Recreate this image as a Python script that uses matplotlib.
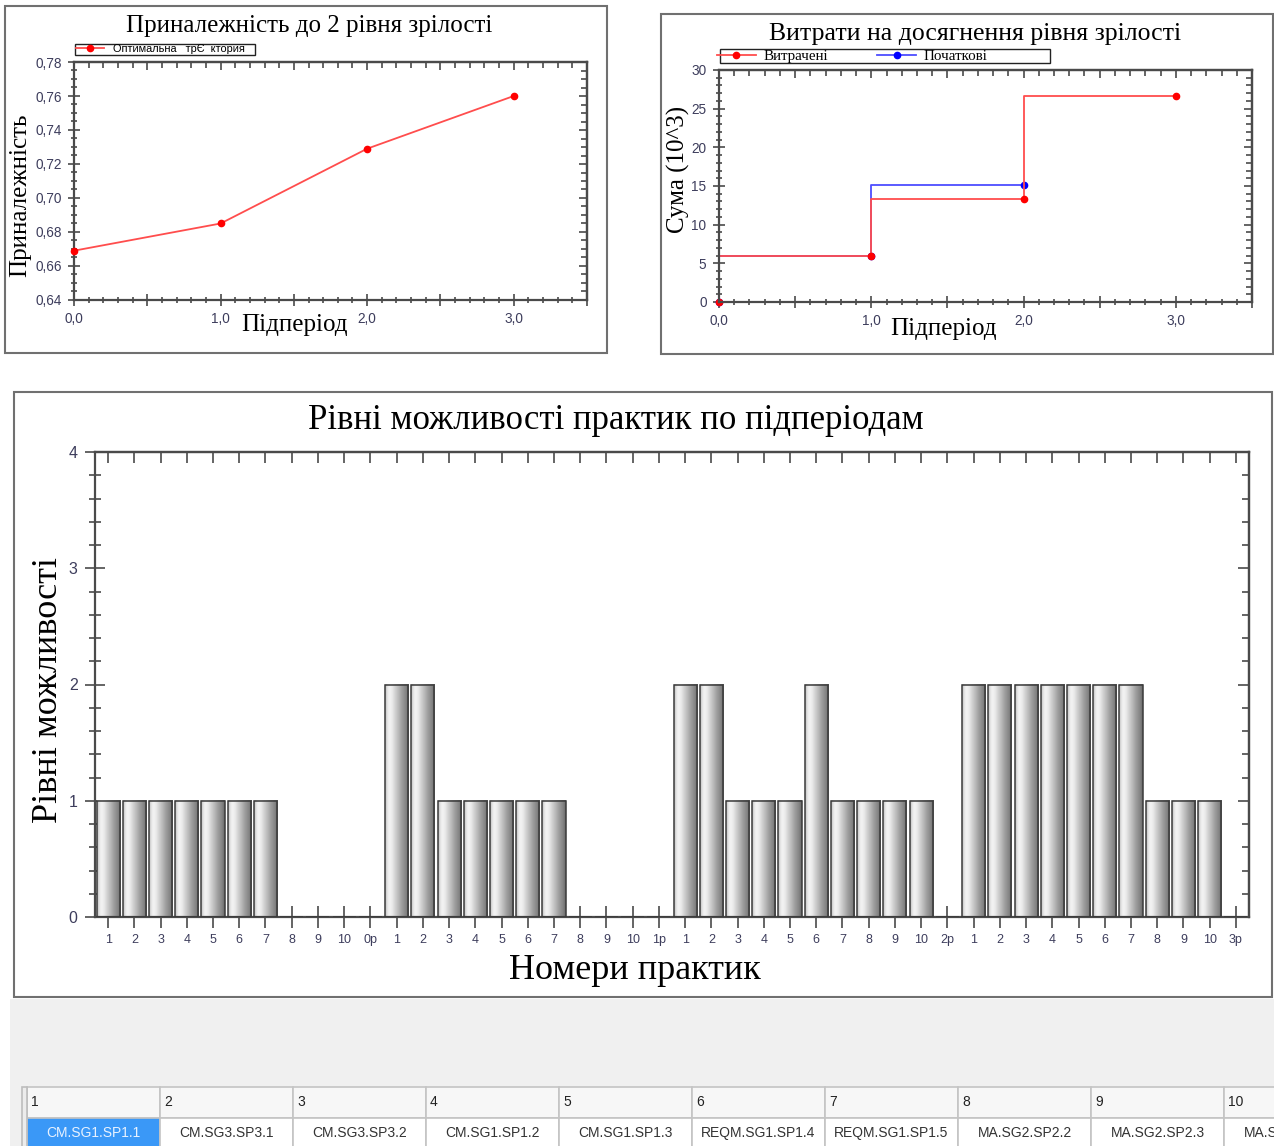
import numpy as np
import matplotlib
matplotlib.use("Agg")
import matplotlib.pyplot as plt
from matplotlib.patches import Rectangle
from matplotlib.ticker import MultipleLocator, FuncFormatter
from matplotlib import font_manager

# ---------------- data ----------------
periods = [0, 1, 2, 3]
membership = [0.669, 0.685, 0.729, 0.760]

spent_x = [0, 1, 2, 3]
spent = [0.0, 6.0, 13.3, 26.6]
initial_x = [0, 1, 2]
initial = [0.0, 6.0, 15.1]

practice_labels = (["1", "2", "3", "4", "5", "6", "7", "8", "9", "10", "0p"] +
                   ["1", "2", "3", "4", "5", "6", "7", "8", "9", "10", "1p"] +
                   ["1", "2", "3", "4", "5", "6", "7", "8", "9", "10", "2p"] +
                   ["1", "2", "3", "4", "5", "6", "7", "8", "9", "10", "3p"])
levels = ([1, 1, 1, 1, 1, 1, 1, 0, 0, 0, 0] +
          [2, 2, 1, 1, 1, 1, 1, 0, 0, 0, 0] +
          [2, 2, 1, 1, 1, 2, 1, 1, 1, 1, 0] +
          [2, 2, 2, 2, 2, 2, 2, 1, 1, 1, 0])

table_headers = ["1", "2", "3", "4", "5", "6", "7", "8", "9", "10"]
table_codes = ["CM.SG1.SP1.1", "CM.SG3.SP3.1", "CM.SG3.SP3.2", "CM.SG1.SP1.2",
               "CM.SG1.SP1.3", "REQM.SG1.SP1.4", "REQM.SG1.SP1.5", "MA.SG2.SP2.2",
               "MA.SG2.SP2.3", "MA.SG2.SP2.4"]

# ---------------- style ----------------
SERIF = "Liberation Serif"
SANS = "Liberation Sans"
avail = {f.name for f in font_manager.fontManager.ttflist}
NARROW = "Liberation Sans Narrow" if "Liberation Sans Narrow" in avail else SANS
TICKC = "#3d3d5c"
SPINEC = "#4a4a4a"

W, H = 1274, 1146
fig = plt.figure(figsize=(W / 100, H / 100), dpi=100)


def px_axes(x0, y0, x1, y1):
    return fig.add_axes([x0 / W, 1 - y1 / H, (x1 - x0) / W, (y1 - y0) / H])


def frame(x0, y0, x1, y1, ec="#707070", lw=1.5, fc="none", z=0):
    fig.add_artist(Rectangle((x0 / W, 1 - y1 / H), (x1 - x0) / W, (y1 - y0) / H,
                             transform=fig.transFigure, fill=(fc != "none"),
                             facecolor=fc, edgecolor=ec, lw=lw, zorder=z))


def style_axes(ax, xmaj, xmin, ymaj, ymin):
    for s in ax.spines.values():
        s.set_color(SPINEC)
        s.set_linewidth(1.6)
    ax.xaxis.set_major_locator(MultipleLocator(xmaj))
    ax.xaxis.set_minor_locator(MultipleLocator(xmin))
    ax.yaxis.set_major_locator(MultipleLocator(ymaj))
    ax.yaxis.set_minor_locator(MultipleLocator(ymin))
    ax.tick_params(which="both", direction="inout", top=False, right=False,
                   colors=SPINEC, labelcolor=TICKC, labelsize=9.8, width=1.2)
    ax.tick_params(which="major", length=8)
    ax.tick_params(which="minor", length=5)
    ax.tick_params(axis="x", pad=5)
    ax.tick_params(axis="y", pad=5)
    for lab in ax.get_xticklabels() + ax.get_yticklabels():
        lab.set_fontfamily(SANS)
    sx = ax.secondary_xaxis("top")
    sx.xaxis.set_major_locator(MultipleLocator(xmaj))
    sx.xaxis.set_minor_locator(MultipleLocator(xmin))
    sx.tick_params(which="both", direction="in", labeltop=False, colors=SPINEC, width=1.2)
    sx.tick_params(which="major", length=6)
    sx.tick_params(which="minor", length=4)
    sy = ax.secondary_yaxis("right")
    sy.yaxis.set_major_locator(MultipleLocator(ymaj))
    sy.yaxis.set_minor_locator(MultipleLocator(ymin))
    sy.tick_params(which="both", direction="in", labelright=False, colors=SPINEC, width=1.2)
    sy.tick_params(which="major", length=6)
    sy.tick_params(which="minor", length=4)
    for sec in (sx, sy):
        for s in sec.spines.values():
            s.set_color(SPINEC)
            s.set_linewidth(1.6)


def int_comma(v, p):
    return f"{v:.1f}".replace(".", ",") if abs(v - round(v)) < 1e-6 else ""


# ---------------- panel frames & background ----------------
frame(5, 6, 607, 353)
frame(661, 14, 1273, 354)
frame(14, 392, 1272, 997)
frame(10, 999, 1274, 1146, ec="none", fc="#f0f0f0", z=-1)

# ---------------- top-left: membership ----------------
ax1 = px_axes(74, 62, 587, 300)
ax1.plot(periods, membership, color="#ff4d4d", lw=1.3, marker="o", ms=4.5,
         mfc="#ff0000", mec="#ff0000", clip_on=False, zorder=3,
         label="Оптимальна   трЄ  ктория")
ax1.set_xlim(0, 3.5)
ax1.set_ylim(0.64, 0.78)
style_axes(ax1, 0.5, 0.1, 0.02, 0.005)
ax1.xaxis.set_major_formatter(FuncFormatter(int_comma))
ax1.yaxis.set_major_formatter(FuncFormatter(lambda v, p: f"{v:.2f}".replace(".", ",")))
ax1.set_title("Приналежність до 2 рівня зрілості", family=SERIF, fontsize=18,
              x=0.458, y=1.152, va="center", pad=0)
ax1.set_xlabel("Підперіод", family=SERIF, fontsize=18)
ax1.xaxis.label.set_va("center")
ax1.xaxis.set_label_coords(0.43, -0.105)
ax1.set_ylabel("Приналежність", family=SERIF, fontsize=18)
ax1.yaxis.label.set_va("center")
ax1.yaxis.set_label_coords(-0.105, 0.44)
ax1.legend(loc="lower left", bbox_to_anchor=(0.002, 1.03, 0.351, 0.052), mode="expand",
           prop={"family": SANS, "size": 7.9}, frameon=True, fancybox=False,
           edgecolor="#222222", framealpha=1, borderpad=0.05, handlelength=2.6,
           handletextpad=0.8, borderaxespad=0)

# ---------------- top-right: costs ----------------
ax2 = px_axes(719, 70, 1252, 302)
ax2.plot(initial_x, initial, color="#4d4dff", lw=1.3, drawstyle="steps-pre",
         marker="o", ms=4.5, mfc="#0000ff", mec="#0000ff", clip_on=False, zorder=2.1,
         label="Початкові")
ax2.plot(spent_x, spent, color="#ff4d4d", lw=1.3, drawstyle="steps-pre",
         marker="o", ms=4.5, mfc="#ff0000", mec="#ff0000", clip_on=False, zorder=2.2,
         label="Витрачені")
ax2.set_xlim(0, 3.5)
ax2.set_ylim(0, 30)
style_axes(ax2, 0.5, 0.1, 5, 1)
ax2.xaxis.set_major_formatter(FuncFormatter(int_comma))
ax2.set_title("Витрати на досягнення рівня зрілості", family=SERIF, fontsize=18.5,
              x=0.48, y=1.155, va="center", pad=0)
ax2.set_xlabel("Підперіод", family=SERIF, fontsize=18)
ax2.xaxis.label.set_va("center")
ax2.xaxis.set_label_coords(0.422, -0.116)
ax2.set_ylabel("Сума (10^3)", family=SERIF, fontsize=18)
ax2.yaxis.label.set_va("center")
ax2.yaxis.set_label_coords(-0.077, 0.57)
h, l = ax2.get_legend_handles_labels()
ax2.add_patch(Rectangle((0.002, 1.03), 0.619, 0.06, transform=ax2.transAxes,
                        fill=False, edgecolor="#222222", lw=1.0, clip_on=False))
ax2.legend(h[::-1], l[::-1], loc="center left", bbox_to_anchor=(-0.004, 1.06),
           ncol=2, prop={"family": SERIF, "size": 10.8}, frameon=False,
           borderpad=0, handlelength=2.6, handletextpad=0.5, borderaxespad=0,
           columnspacing=3.3)

# ---------------- bottom: levels bar chart ----------------
ax3 = px_axes(95, 452, 1249, 917)
xs = np.arange(len(levels))
bw = 0.88
ax3.bar(xs, levels, width=bw, facecolor="none", edgecolor="#3a3a3a", lw=1.1, zorder=3)
grad = np.array([0.80, 0.92, 0.95, 0.92, 0.86, 0.80, 0.74, 0.68, 0.62, 0.57, 0.52, 0.44])[None, :]
for x, v in zip(xs, levels):
    if v > 0:
        ax3.imshow(grad, cmap="gray", vmin=0, vmax=1, aspect="auto", interpolation="bilinear",
                   extent=(x - bw / 2, x + bw / 2, 0, v), zorder=2)
ax3.set_xlim(-0.5, len(levels) - 0.5)
ax3.set_ylim(0, 4)
for s in ax3.spines.values():
    s.set_color(SPINEC)
    s.set_linewidth(1.6)
ax3.set_xticks(xs)
ax3.set_xticklabels(practice_labels, family=SANS, fontsize=9, color=TICKC)
ax3.yaxis.set_major_locator(MultipleLocator(1))
ax3.yaxis.set_minor_locator(MultipleLocator(0.2))
ax3.tick_params(axis="x", direction="inout", length=16, width=1.2, colors=SPINEC,
                labelcolor=TICKC, pad=4)
ax3.tick_params(axis="y", which="major", direction="inout", length=15, width=1.2,
                colors=SPINEC, labelcolor=TICKC, labelsize=11.5, pad=5)
ax3.tick_params(axis="y", which="minor", direction="inout", length=8, width=1.2, colors=SPINEC)
for lab in ax3.get_yticklabels():
    lab.set_fontfamily(SANS)
sx3 = ax3.secondary_xaxis("top")
sx3.set_xticks(xs)
sx3.tick_params(direction="in", length=8, width=1.2, labeltop=False, colors=SPINEC)
sy3 = ax3.secondary_yaxis("right")
sy3.yaxis.set_major_locator(MultipleLocator(1))
sy3.yaxis.set_minor_locator(MultipleLocator(0.2))
sy3.tick_params(which="both", direction="in", labelright=False, colors=SPINEC, width=1.2)
sy3.tick_params(which="major", length=8)
sy3.tick_params(which="minor", length=5)
for sec in (sx3, sy3):
    for s in sec.spines.values():
        s.set_color(SPINEC)
        s.set_linewidth(1.6)
ax3.set_title("Рівні можливості практик по підперіодам", family=SERIF, fontsize=25,
              x=0.4515, y=1.068, va="center", pad=0)
ax3.set_xlabel("Номери практик", family=SERIF, fontsize=26)
ax3.xaxis.label.set_va("center")
ax3.xaxis.set_label_coords(0.468, -0.115)
ax3.set_ylabel("Рівні можливості", family=SERIF, fontsize=26)
ax3.yaxis.label.set_va("center")
ax3.yaxis.set_label_coords(-0.040, 0.488)

# ---------------- bottom table ----------------
col_w = 133
ax_t = px_axes(27, 1087, 27 + col_w * len(table_headers), 1148)
ax_t.axis("off")
tbl = ax_t.table(cellText=[table_codes], colLabels=table_headers, cellLoc="center",
                 colLoc="left", bbox=[0, 0, 1, 1])
tbl.auto_set_font_size(False)
for (r, c), cell in tbl.get_celld().items():
    cell.set_edgecolor("#c4c4c4")
    cell.set_linewidth(1.2)
    txt = cell.get_text()
    txt.set_fontfamily(NARROW)
    txt.set_fontsize(11 if NARROW != SANS else 10)
    if r == 0:
        cell.set_facecolor("#f7f7f7")
        txt.set_color("#222222")
        cell.PAD = 0.03
    else:
        cell.set_facecolor("#ffffff")
        txt.set_color("#333333")
        if c == 0:
            cell.set_facecolor("#3a98f7")
            txt.set_color("#e8f2ff")
frame(22, 1087, 27, 1150, ec="#bdbdbd", lw=1.2, fc="#ececec", z=5)

fig.savefig("out.png", dpi=100)
